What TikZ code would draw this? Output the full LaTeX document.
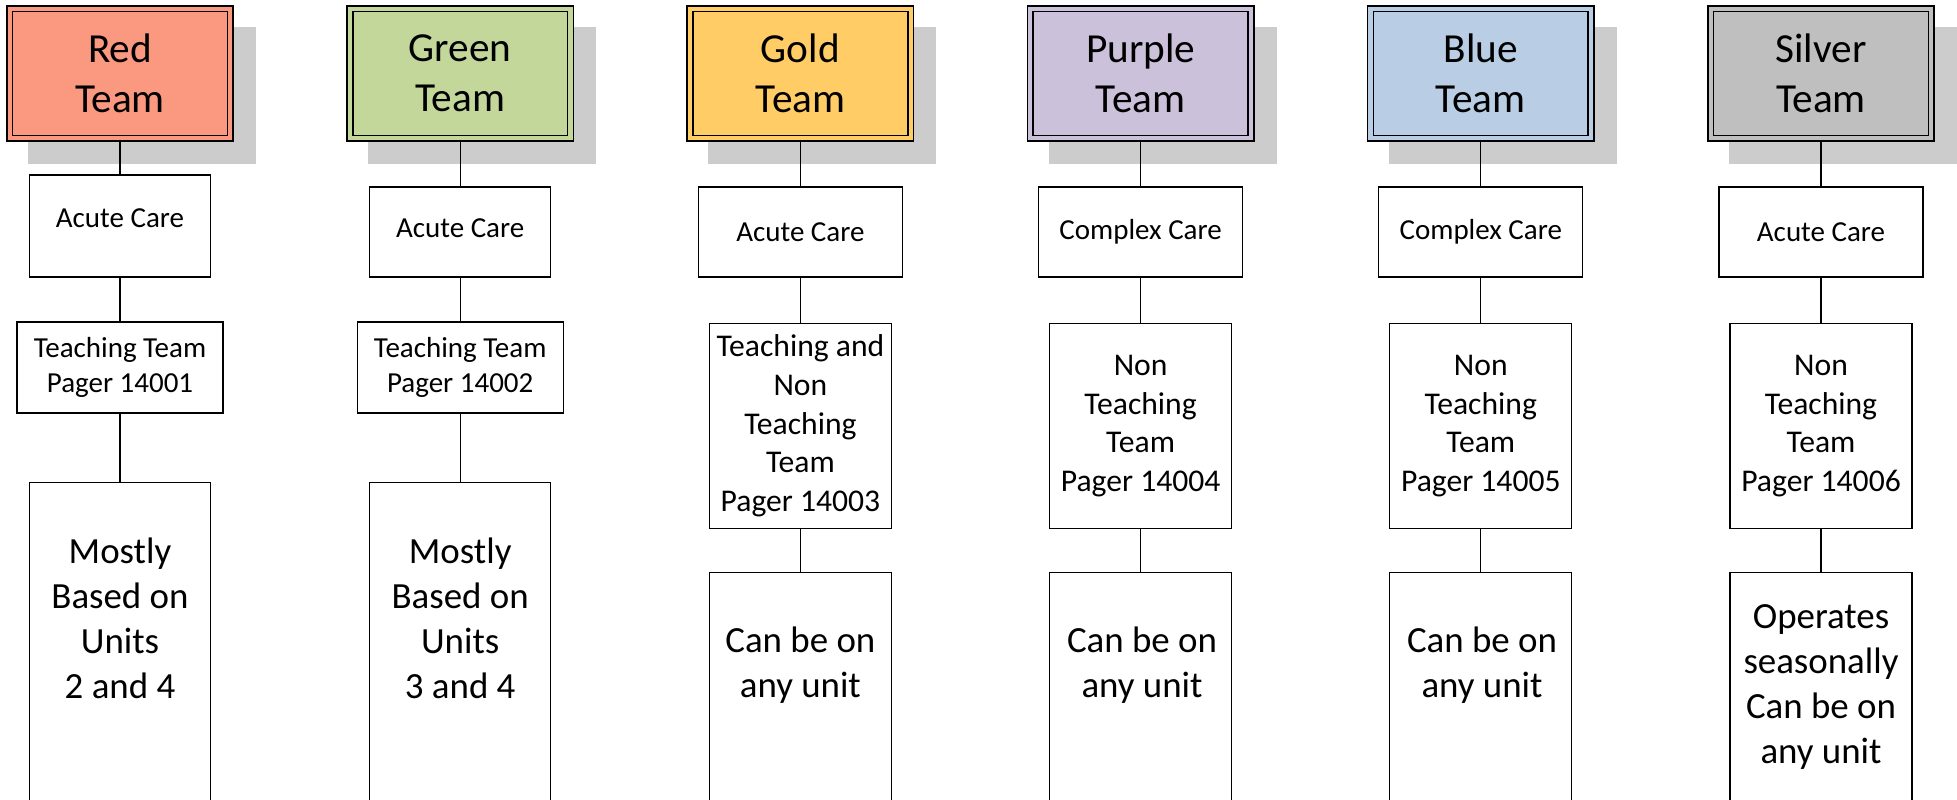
\documentclass[tikz,border=0pt]{standalone}
\usepackage{fontspec}
\setmainfont{Carlito}
\usetikzlibrary{backgrounds}

\definecolor{RedTeam}{HTML}{FA9880}
\definecolor{GreenTeam}{HTML}{C4D79B}
\definecolor{GoldTeam}{HTML}{FFCC66}
\definecolor{PurpleTeam}{HTML}{CCC1DA}
\definecolor{BlueTeam}{HTML}{B9CDE5}
\definecolor{SilverTeam}{HTML}{BFBFBF}
\definecolor{ShadowGray}{HTML}{CCCCCC}

\tikzset{
  team/.style={draw, line width=0.9pt, double=#1, double distance=2.4pt,
    fill=#1, outer sep=2.1pt, inner sep=0pt, align=center,
    minimum width=4.41cm, minimum height=2.59cm,
    font=\fontsize{23.5}{28.5}\selectfont},
  unitbox/.style={draw, line width=0.7pt, fill=white, align=center, inner sep=0pt},
  care/.style={unitbox, minimum height=1.8cm, font=\fontsize{16.5}{20}\selectfont},
  teach/.style={unitbox, font=\fontsize{16.5}{20}\selectfont},
  nonteach/.style={unitbox, minimum width=3.64cm, minimum height=4.1cm,
    font=\fontsize{18}{22}\selectfont},
  where/.style={unitbox, anchor=north, minimum height=8cm},
  wheretext/.style={align=center, inner sep=0pt, font=\fontsize{21}{25.6}\selectfont}
}

\begin{document}
\begin{tikzpicture}[x=0.02cm, y=-0.02cm]
  \useasboundingbox (0, 0) rectangle (1957, 799);
  \clip (0, 0) rectangle (1957, 799);

  %team heads
  \node[team=RedTeam] (red) at (120, 73.5) {Red\\Team};
  \node[team=GreenTeam] (green) at (460.2, 73.5) {Green\\Team};
  \node[team=GoldTeam] (gold) at (800.4, 73.5) {Gold\\Team};
  \node[team=PurpleTeam] (purple) at (1140.6, 73.5) {Purple\\Team};
  \node[team=BlueTeam] (blue) at (1480.8, 73.5) {Blue\\Team};
  \node[team=SilverTeam] (silver) at (1821, 73.5) {Silver\\Team};

  \begin{scope}[on background layer]
    \foreach \t in {red, green, gold, purple, blue, silver}
      \fill[ShadowGray] ([shift={(22, 22)}]\t.north west) rectangle
                        ([shift={(22, 22)}]\t.south east);
  \end{scope}

  %kind of care
  \node[care, minimum width=3.62cm, minimum height=2.04cm, text depth=9pt] (redcare) at (120, 226) {Acute Care};
  \node[care, minimum width=3.62cm, text depth=5pt] (greencare) at (460.2, 232) {Acute Care};
  \node[care, minimum width=4.08cm] (goldcare) at (800.4, 232) {Acute Care};
  \node[care, minimum width=4.08cm] (purplecare) at (1140.6, 232) {Complex Care};
  \node[care, minimum width=4.08cm] (bluecare) at (1480.8, 232) {Complex Care};
  \node[care, minimum width=4.08cm] (silvercare) at (1821, 232) {Acute Care};

  %teaching and pagers
  \node[teach, minimum width=4.12cm, minimum height=1.82cm] (redteach) at (120, 367.5)
     {Teaching Team\\Pager 14001};
  \node[teach, minimum width=4.12cm, minimum height=1.82cm] (greenteach) at (460.2, 367.5)
     {Teaching Team\\Pager 14002};
  \node[nonteach] (goldteach) at (800.4, 426) {Teaching and\\Non\\Teaching\\Team\\Pager 14003};
  \node[nonteach] (purpleteach) at (1140.6, 426) {Non\\Teaching\\Team\\Pager 14004};
  \node[nonteach] (blueteach) at (1480.8, 426) {Non\\Teaching\\Team\\Pager 14005};
  \node[nonteach] (silverteach) at (1821, 426) {Non\\Teaching\\Team\\Pager 14006};

  %where they work
  \node[where, minimum width=3.62cm] (redunit) at (120, 482) {};
  \node[where, minimum width=3.62cm] (greenunit) at (460.2, 482) {};
  \node[where, minimum width=3.64cm] (goldunit) at (800.4, 572) {};
  \node[where, minimum width=3.64cm] (purpleunit) at (1140.6, 572) {};
  \node[where, minimum width=3.64cm] (blueunit) at (1480.8, 572) {};
  \node[where, minimum width=3.64cm] (silverunit) at (1821, 572) {};

  \node[wheretext] (redwhere) at (120, 618) {Mostly\\Based on\\Units\\ 2 and 4};
  \node[wheretext] (greenwhere) at (460.2, 618) {Mostly\\Based on\\Units\\ 3 and 4};
  \node[wheretext] (goldwhere) at (800.4, 665) {Can be on\\any unit};
  \node[wheretext] (purplewhere) at (1142, 665) {Can be on\\any unit};
  \node[wheretext] (bluewhere) at (1482, 665) {Can be on\\any unit};
  \node[wheretext] (silverwhere) at (1821, 687) {Operates\\seasonally\\Can be on\\any unit};

  %connectors
  \foreach \t in {red, green, gold, purple, blue, silver}
    \draw[line width=0.7pt] (\t) -- (\t care) (\t care) -- (\t teach)
                            (\t teach) -- (\t unit.north);

\end{tikzpicture}
\end{document}
